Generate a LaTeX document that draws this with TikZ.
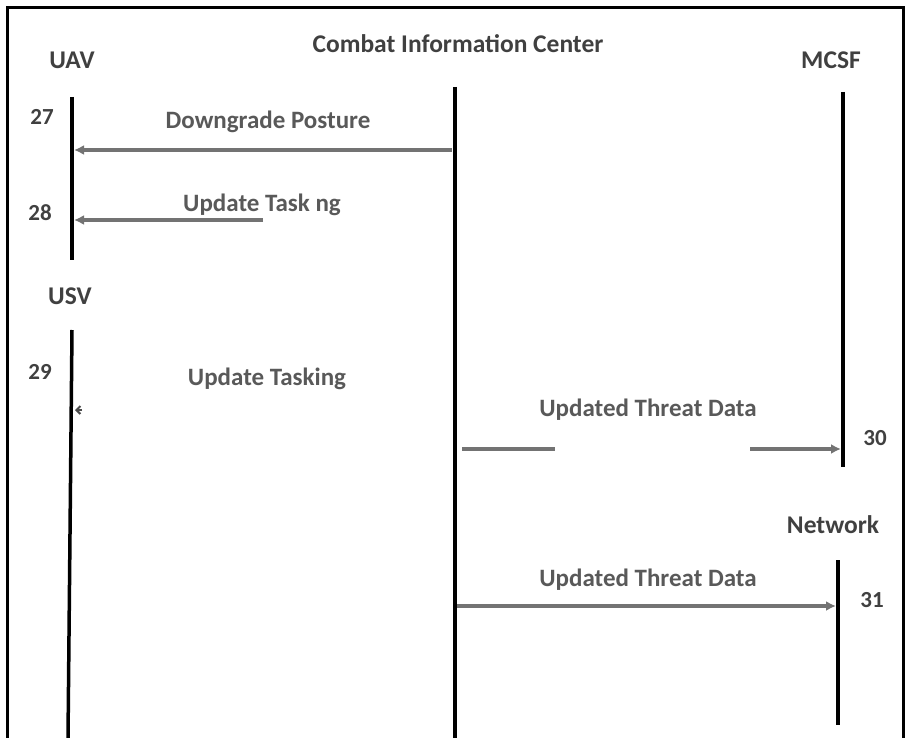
\documentclass[tikz,border=0pt]{standalone}
\usepackage{fontspec}
\setmainfont{Carlito}
\usetikzlibrary{arrows.meta,positioning}

\begin{document}
\begin{tikzpicture}[
  x=1pt,y=-1pt,
  >=Latex,
  actor/.style={font=\bfseries\fontsize{25.5}{28}\selectfont,text=black!75,inner sep=0pt},
  num/.style={font=\bfseries\fontsize{23}{25}\selectfont,text=black!75,inner sep=0pt},
  lab/.style={font=\bfseries\fontsize{25}{28}\selectfont,text=black!65,inner sep=0pt},
  life/.style={line width=3.5pt,black},
  msg/.style={line width=3.5pt,black!55,-{Latex[length=10pt,width=10pt]}},
  plain/.style={line width=3.5pt,black!55}
]
\useasboundingbox (0,0) rectangle (908,738);
% frame
\draw[line width=3pt] (7,745) |- (903,8) -- (903,745);

% actors
\node[actor] (cic) at (458,44) {Combat Information Center};
\node[actor] (uav) at (72,60) {UAV};
\node[actor] (mcsf) at (831,60) {MCSF};
\node[actor] (usv) at (70,296) {USV};
\node[actor] (net) at (833,525) {Network};

% lifelines
\coordinate (cicT) at (455,87);
\coordinate (cicB) at (455,745);
\coordinate (uavT) at (72,97);
\coordinate (uavB) at (72,260);
\coordinate (mcsfT) at (843,92);
\coordinate (mcsfB) at (843,467);
\coordinate (usvT) at (72,330);
\coordinate (usvB) at (68,738);
\coordinate (netT) at (838,560);
\coordinate (netB) at (838,725);
\draw[life] (cicT) -- (cicB);
\draw[life] (uavT) -- (uavB);
\draw[life] (mcsfT) -- (mcsfB);
\draw[life] (usvT) -- (usvB);
\draw[life] (netT) -- (netB);

% step numbers
\node[num] (n27) at (42,117) {27};
\node[num] (n28) at (40,213) {28};
\node[num] (n29) at (40,372) {29};
\node[num] (n30) at (875,438) {30};
\node[num] (n31) at (872,600) {31};

% messages
\coordinate (m27a) at (452,150);
\coordinate (m27b) at (74,150);
\draw[msg] (m27a) -- (m27b);
\node[lab] (l27) at (268,122) {Downgrade Posture};

\coordinate (m28a) at (263,220);
\coordinate (m28b) at (74,220);
\draw[msg] (m28a) -- (m28b);
\node[lab] (l28) at (262,205) {Update Task ng};

\coordinate (m29a) at (82,410);
\coordinate (m29b) at (75,410);
\draw[-{Straight Barb[length=4pt,width=8pt]},line width=2pt,black!70] (m29a) -- (m29b);
\node[lab] (l29) at (267,379) {Update Tasking};

\coordinate (m30a) at (462,449);
\coordinate (m30b) at (555,449);
\coordinate (m30c) at (750,449);
\coordinate (m30d) at (841,449);
\draw[plain] (m30a) -- (m30b);
\draw[msg] (m30c) -- (m30d);
\node[lab] (l30) at (648,410) {Updated Threat Data};

\coordinate (m31a) at (457,606);
\coordinate (m31b) at (836,606);
\draw[msg] (m31a) -- (m31b);
\node[lab] (l31) at (648,580) {Updated Threat Data};
\end{tikzpicture}
\end{document}
